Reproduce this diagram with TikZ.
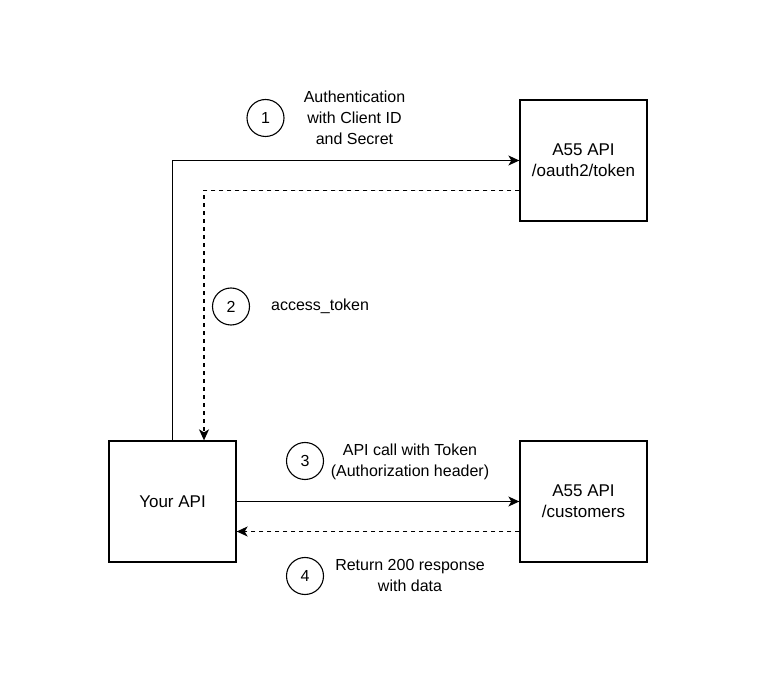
\documentclass[tikz,border=0pt]{standalone}
\usepackage{fontspec}
\setmainfont{Liberation Sans}
\usetikzlibrary{arrows.meta}
\usetikzlibrary{positioning}
\tikzset{box/.style = {draw, line width = 1.3pt, minimum width = 127, minimum height = 121,
                       inner sep = 0, align = center, font = \fontsize{17}{21}\selectfont}}
\tikzset{num/.style = {draw, circle, line width = 1.1pt, minimum size = 37, inner sep = 0,
                       font = \fontsize{16}{21}\selectfont}}
\tikzset{lbl/.style = {align = center, inner sep = 0, font = \fontsize{16}{21}\selectfont}}
\tikzset{call/.style = {line width = 1.3pt, -{Stealth[length = 11pt, width = 10pt, inset = 3pt]}}}
\tikzset{reply/.style = {call, dash pattern = on 4pt off 4pt}}

\begin{document}
\begin{tikzpicture}[x = 1pt, y = -1pt]
      \useasboundingbox (0, 0) rectangle (769, 684);

      \node [box] (yourapi) at (172.5, 501.5) {Your API};
      \node [box] (tokenapi) at (583.5, 160.5) {A55 API\\/oauth2/token};
      \node [box] (custapi) at (583.5, 501.5) {A55 API\\/customers};

      \draw [call] (yourapi.north) |- (tokenapi.west);
      \draw [reply] ([yshift = -30pt]tokenapi.west) -| ([xshift = 31.5pt]yourapi.north);
      \draw [call] (yourapi.east) -- (custapi.west);
      \draw [reply] ([yshift = -30pt]custapi.west) -- ([yshift = -30pt]yourapi.east);

      \node [num] (n1) at (265.5, 118) {1};
      \node [lbl] (l1) at (354.5, 118) {Authentication\\with Client ID\\and Secret};
      \node [num] (n2) at (231, 306.5) {2};
      \node [lbl, anchor = west] (l2) at (271, 306.5) {access\_token};
      \node [num] (n3) at (305, 461) {3};
      \node [lbl] (l3) at (410, 461.5) {API call with Token\\(Authorization header)};
      \node [num] (n4) at (305, 576) {4};
      \node [lbl] (l4) at (410, 575.5) {Return 200 response\\with data};

    % numbered steps of the token flow
    \end{tikzpicture}
\end{document}
